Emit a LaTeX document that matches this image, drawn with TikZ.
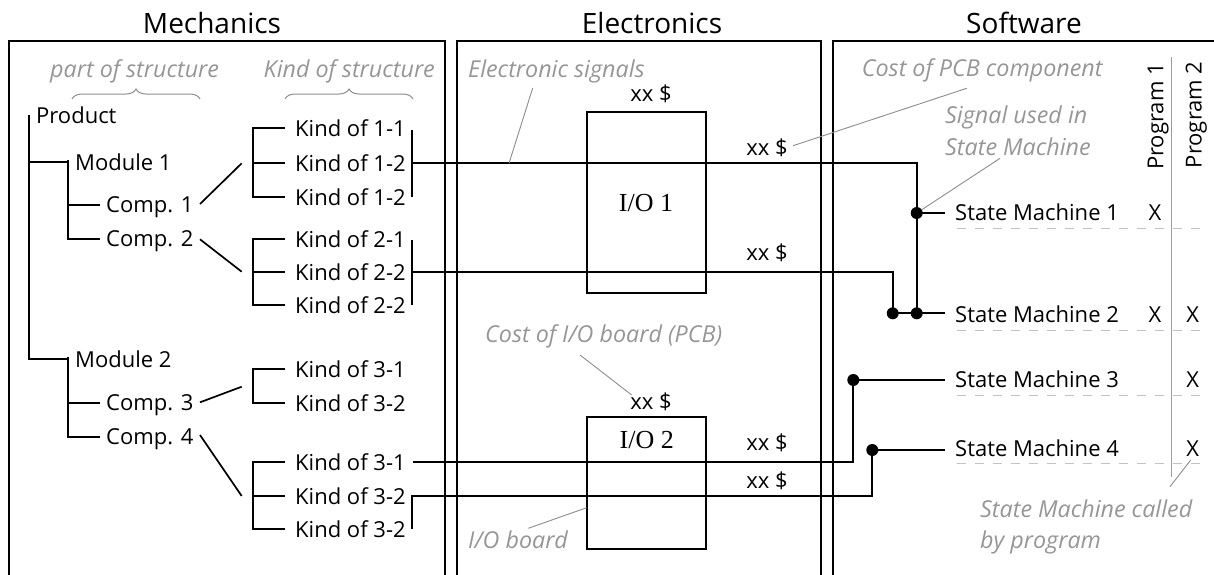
\documentclass[tikz,border=0pt]{standalone}
\usepackage{fontspec}
\setmainfont{Open Sans}
\newfontfamily\iofont{Liberation Serif}
\usetikzlibrary{decorations.pathreplacing}
\definecolor{notegray}{RGB}{150,150,150}
\definecolor{leadgray}{RGB}{140,140,140}
\definecolor{dashgray}{RGB}{195,195,195}
\begin{document}
\begin{tikzpicture}[x=1pt,y=-1pt,
 title/.style={font=\fontsize{28}{30}\selectfont, anchor=base, inner sep=0pt},
 txt/.style={font=\fontsize{22}{24}\selectfont, anchor=base west, inner sep=0pt},
 cost/.style={font=\fontsize{22}{24}\selectfont, anchor=base, inner sep=0pt},
 note/.style={font=\fontsize{23.3}{26}\selectfont\itshape, text=notegray, anchor=base west, inner sep=0pt},
 iolbl/.style={font=\iofont\fontsize{26}{28}\selectfont, inner sep=0pt},
 panel/.style={line width=2.3pt},
 wire/.style={line width=2pt},
 tie/.style={line width=1.7pt},
 lead/.style={draw=leadgray, line width=0.9pt},
 brc/.style={draw=leadgray, line width=1pt, decorate, decoration={brace, amplitude=10pt, aspect=0.5}},
 rowsep/.style={draw=dashgray, line width=1pt, dash pattern=on 9pt off 9pt},
 junction/.style={circle, fill=black, inner sep=0pt, minimum size=12pt},
 iobox/.style={draw, line width=2.2pt, inner sep=0pt},
 xmark/.style={font=\fontsize{22}{24}\selectfont, anchor=base, inner sep=0pt}]
\useasboundingbox (0,0) rectangle (1214,574);
\clip (0,0) rectangle (1214,574);

% ---------- titles and panels
\node[title] (tmech) at (212,33.3) {Mechanics};
\node[title] (telec) at (652,33.3) {Electronics};
\node[title] (tsoft) at (1024,33.3) {Software};
\draw[panel] (9,600) |- (445,41) -- (445,600);
\draw[panel] (456.7,600) |- (821,41) -- (821,600);
\draw[panel] (833.3,600) |- (1230,41);

% ---------- Mechanics: notes and braces
\node[note] (npart) at (50,77) {part of structure};
\node[note] (nkind) at (263.5,77) {Kind of structure};
\coordinate (bp1) at (72,99); \coordinate (bp2) at (200,99);
\coordinate (bk1) at (285,99); \coordinate (bk2) at (413,99);
\draw[brc] (bp1) -- (bp2);
\draw[brc] (bk1) -- (bk2);

% ---------- part-of-structure tree
\node[txt] (prod) at (36,123.3) {Product};
\node[txt] (mod1) at (75,170) {Module 1};
\node[txt] (comp1) at (106,212.3) {Comp. 1};
\node[txt] (comp2) at (106,246.3) {Comp. 2};
\node[txt] (mod2) at (75,367.5) {Module 2};
\node[txt] (comp3) at (106,410.3) {Comp. 3};
\node[txt] (comp4) at (106,444) {Comp. 4};

\coordinate (pTop) at (29,115);
\coordinate (pM1) at (29,162);
\coordinate (pM2) at (29,359);
\coordinate (m1t) at (68,160);
\coordinate (m1c) at (68,162);
\coordinate (m1b) at (68,239);
\coordinate (m2t) at (68,357);
\coordinate (m2c) at (68,359);
\coordinate (m2b) at (68,436.7);
\coordinate (m1c1) at (68,205); \coordinate (c1s) at (100,205);
\coordinate (c2s) at (100,239);
\coordinate (m2c3) at (68,402.7); \coordinate (c3s) at (100,402.7);
\coordinate (c4s) at (100,436.7);
\draw[wire] (pTop) -- (pM2) -- (m2c);
\draw[wire] (pM1) -- (m1c);
\draw[wire] (m1t) -- (m1b) -- (c2s);
\draw[wire] (m1c1) -- (c1s);
\draw[wire] (m2t) -- (m2b) -- (c4s);
\draw[wire] (m2c3) -- (c3s);

% ---------- ties between components and kinds
\coordinate (t1a) at (200,204);   \coordinate (t1b) at (241.7,163.3);
\coordinate (t2a) at (200,239.3); \coordinate (t2b) at (241.7,271.7);
\coordinate (t3a) at (200,402.3); \coordinate (t3b) at (241.7,386.7);
\coordinate (t4a) at (200,435);   \coordinate (t4b) at (241.7,496);
\draw[tie] (t1a) -- (t1b);
\draw[tie] (t2a) -- (t2b);
\draw[tie] (t3a) -- (t3b);
\draw[tie] (t4a) -- (t4b);

% ---------- kind brackets
\draw[wire] (285,128.3) -| (253.3,196.7) -- (285,196.7);
\draw[wire] (253.3,163.3) -- (285,163.3);
\draw[wire] (285,238.7) -| (253.3,305) -- (285,305);
\draw[wire] (253.3,271.7) -- (285,271.7);
\draw[wire] (285,369.3) -| (253.3,402.7) -- (285,402.7);
\draw[wire] (285,462.3) -| (253.3,529) -- (285,529);
\draw[wire] (253.3,496) -- (285,496);

\node[txt] (k11) at (295,136.7) {Kind of 1-1};
\node[txt] (k12) at (295,171.7) {Kind of 1-2};
\node[txt] (k13) at (295,205) {Kind of 1-2};
\node[txt] (k21) at (295,247) {Kind of 2-1};
\node[txt] (k22) at (295,280) {Kind of 2-2};
\node[txt] (k23) at (295,313.3) {Kind of 2-2};
\node[txt] (k31) at (295,377.6) {Kind of 3-1};
\node[txt] (k32) at (295,411) {Kind of 3-2};
\node[txt] (k41) at (295,470.6) {Kind of 3-1};
\node[txt] (k42) at (295,504.3) {Kind of 3-2};
\node[txt] (k43) at (295,537.3) {Kind of 3-2};

% ---------- Electronics
\node[note] (nsig) at (468,77.5) {Electronic signals};
\node[iobox, minimum width=119.3pt, minimum height=181.6pt] (io1) at (646.35,202.5) {};
\node[iolbl] (io1lbl) at (646,203) {I/O 1};
\node[iobox, minimum width=119.3pt, minimum height=132.6pt] (io2) at (646.35,483) {};
\node[iolbl] (io2lbl) at (646.7,440) {I/O 2};
\node[cost] (cio1) at (651,101.7) {xx \$};
\node[cost] (cs1) at (767,155) {xx \$};
\node[cost] (cs2) at (767,260) {xx \$};
\node[cost] (cio2) at (651,409.3) {xx \$};
\node[cost] (cs3) at (767,450) {xx \$};
\node[cost] (cs4) at (767,488.3) {xx \$};
\node[note] (ncostio) at (485,342.7) {Cost of I/O board (PCB)};
\node[note] (nboard) at (468,548.3) {I/O board};

% ---------- Software
\node[note] (ncostpcb) at (861.7,76.7) {Cost of PCB component};
\node[note] (nused1) at (945,123.3) {Signal used in};
\node[note] (nused2) at (945,155) {State Machine};
\node[txt, rotate=90] (prog1) at (1163.3,170) {Program 1};
\node[txt, rotate=90] (prog2) at (1201.7,168.3) {Program 2};
\coordinate (vsepTop) at (1171,56.7);
\coordinate (vsepBot) at (1171,476.7);
\draw[draw=dashgray!80!black, line width=0.9pt] (vsepTop) -- (vsepBot);

\node[txt] (sm1) at (955,220.7) {State Machine 1};
\node[txt] (sm2) at (955,322.7) {State Machine 2};
\node[txt] (sm3) at (955,387.3) {State Machine 3};
\node[txt] (sm4) at (955,456.7) {State Machine 4};
\node[xmark] (x11) at (1155,220.7) {X};
\node[xmark] (x21) at (1155,322.7) {X};
\node[xmark] (x22) at (1192.7,322.7) {X};
\node[xmark] (x32) at (1192.7,387.3) {X};
\node[xmark] (x42) at (1192.7,456.7) {X};
\draw[rowsep] (956.7,228.3) -- (1207,228.3);
\draw[rowsep] (956.7,330) -- (1207,330);
\draw[rowsep] (956.7,395) -- (1207,395);
\draw[rowsep] (956.7,463.3) -- (1207,463.3);
\node[note] (ncall1) at (980,517.3) {State Machine called};
\node[note] (ncall2) at (980,548.3) {by program};

% ---------- signal wires
\node[junction] (j1) at (916.7,213) {};
\node[junction] (j2a) at (892.7,313.3) {};
\node[junction] (j2b) at (916.7,313.3) {};
\node[junction] (j3) at (853.3,380) {};
\node[junction] (j4) at (872.3,450) {};
\coordinate (e1) at (945,213);
\coordinate (e2) at (945,313.3);
\coordinate (e3) at (945,380);
\coordinate (e4) at (945,450);

\draw[wire] (412.3,130) -- (412.3,197);
\draw[wire] (412.3,163.3) -| (j2b.center);
\draw[wire] (j1.center) -- (e1);
\draw[wire] (412.3,240) -- (412.3,305);
\draw[wire] (412.3,271.7) -| (j2a.center);
\draw[wire] (j2a.center) -- (e2);
\draw[wire] (j3.center) -- (e3);
\draw[wire] (j3.center) |- (413,462.3);
\draw[wire] (j4.center) -- (e4);
\draw[wire] (j4.center) |- (412.3,496) -- (412.3,529);

% ---------- leader lines
\draw[lead] (532.7,88) -- (509,163.3);
\draw[lead] (793,145.7) -- (966.7,88.3);
\draw[lead] (1000,158.3) -- (j1);
\draw[lead] (580,355) -- (631.7,395);
\draw[lead] (528.3,528.3) -- (586.7,507.7);
\draw[lead] (1170,486.7) -- (1190.7,460);
\end{tikzpicture}
\end{document}
